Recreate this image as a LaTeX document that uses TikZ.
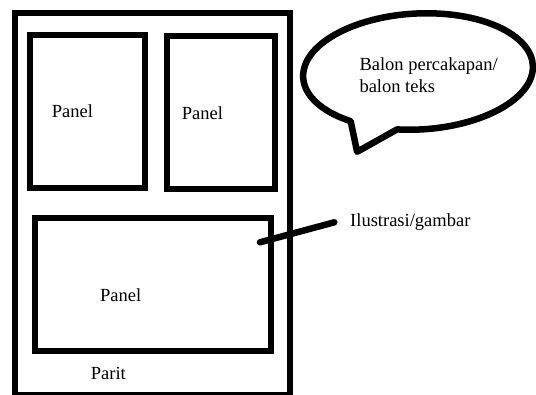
\documentclass[tikz,border=0pt]{standalone}
\usepackage{fontspec}
\setmainfont{Liberation Serif}
\begin{document}
\begin{tikzpicture}[x=1pt,y=1pt,
  frame/.style={draw=black,line width=6pt,inner sep=0pt,outer sep=0pt},
  lbl/.style={inner sep=0pt,font=\fontsize{18.5}{22.5}\selectfont,text=black},
  thick line/.style={line width=6.5pt,line cap=round,line join=round}]
\useasboundingbox (0,0) rectangle (536,-394);
\fill[white] (0,0) rectangle (536,-394);
% outer page
\node[frame,minimum width=274.4pt,minimum height=381.7pt] (page) at (152.5,-203.85) {};
% panels
\node[frame,minimum width=115pt,minimum height=152.5pt] (p1) at (87,-111.25) {};
\node[frame,minimum width=107.2pt,minimum height=152.4pt] (p2) at (220.9,-112.5) {};
\node[frame,minimum width=236.7pt,minimum height=132.8pt] (p3) at (152.85,-284.4) {};
% labels
\node[lbl,anchor=base west] (t1) at (51.7,-117.3) {Panel};
\node[lbl,anchor=base west] (t2) at (181.7,-119) {Panel};
\node[lbl,anchor=base west] (t3) at (100,-301.7) {Panel};
\node[lbl,anchor=base west] (parit) at (90.7,-379) {Parit};
% speech balloon
\begin{scope}[shift={(418,-71.5)},rotate=3]
  \draw[thick line] (258:115 and 58) arc[start angle=258,end angle=592.6,x radius=115,y radius=58] -- (-65,-77) -- cycle;
\end{scope}
\node[lbl,anchor=base west,align=left] (balon) at (359.3,-92.7) {Balon percakapan/\\balon teks};
% illustration label and connector
\node[lbl,anchor=base west] (ilus) at (350,-226) {Ilustrasi/gambar};
\coordinate (c1) at (260,-242.3);
\coordinate (c2) at (334.3,-222.3);
\draw[thick line] (c1) -- (c2);
\end{tikzpicture}
\end{document}
